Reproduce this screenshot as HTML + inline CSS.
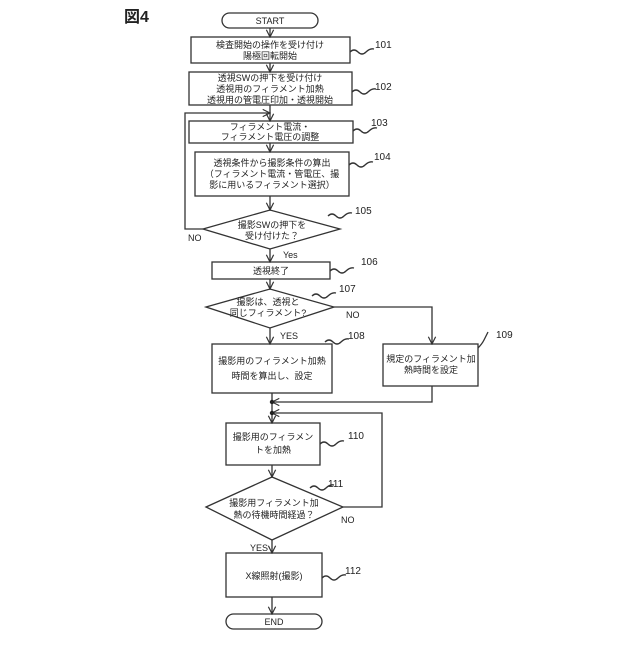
<!DOCTYPE html>
<html><head><meta charset="utf-8"><style>
html,body{margin:0;padding:0;background:#fff}
svg text{font-family:"Liberation Sans","Noto Sans CJK JP",sans-serif;fill:#222}
</style></head><body>
<svg width="640" height="640" viewBox="0 0 640 640" xmlns="http://www.w3.org/2000/svg">
<defs><marker id="a" viewBox="0 0 10 10" refX="9" refY="5" markerWidth="7" markerHeight="7" orient="auto"><path d="M1,1 L9,5 L1,9" fill="none" stroke="#333" stroke-width="1.3"/></marker></defs>
<g stroke="#333" stroke-width="1.3" fill="none">
<rect x="222" y="13" width="96" height="15" rx="7.5"/>
<rect x="191" y="37" width="159" height="26"/>
<rect x="189" y="72" width="163" height="33"/>
<rect x="189" y="121" width="164" height="22"/>
<rect x="195" y="152" width="154" height="44"/>
<path d="M203,229 L270,210 L340,229 L270,249 Z"/>
<rect x="212" y="262" width="118" height="17"/>
<path d="M206,307 L270,289 L334,307 L270,328 Z"/>
<rect x="212" y="344" width="120" height="49"/>
<rect x="383" y="344" width="95" height="42"/>
<rect x="226" y="423" width="94" height="42"/>
<path d="M206,507 L272,477 L343,507 L272,540 Z"/>
<rect x="226" y="553" width="96" height="44"/>
<rect x="226" y="614" width="96" height="15" rx="7.5"/>
<path d="M270,28 V37" marker-end="url(#a)"/>
<path d="M270,63 V72" marker-end="url(#a)"/>
<path d="M270,105 V121" marker-end="url(#a)"/>
<path d="M270,143 V152" marker-end="url(#a)"/>
<path d="M270,196 V210" marker-end="url(#a)"/>
<path d="M203,229 H185 V113 H270" marker-end="url(#a)"/>
<path d="M270,249 V262" marker-end="url(#a)"/>
<path d="M270,279 V289" marker-end="url(#a)"/>
<path d="M334,307 H432 V344" marker-end="url(#a)"/>
<path d="M270,328 V344" marker-end="url(#a)"/>
<path d="M272,393 V423" marker-end="url(#a)"/>
<path d="M432,386 V402 H272" marker-end="url(#a)"/>
<path d="M343,507 H382 V413 H272" marker-end="url(#a)"/>
<path d="M272,465 V477" marker-end="url(#a)"/>
<path d="M272,540 V553" marker-end="url(#a)"/>
<path d="M272,597 V614" marker-end="url(#a)"/>
<path d="M350,52 q4,-4 8,0 t8,0 t8,-3"/>
<path d="M352,92 q4,-4 8,0 t8,0 t8,-3"/>
<path d="M353,131 q4,-4 8,0 t8,0 t8,-3"/>
<path d="M349,165 q4,-4 8,0 t8,0 t8,-3"/>
<path d="M328,216 q4,-4 8,0 t8,0 t8,-3"/>
<path d="M330,271 q4,-4 8,0 t8,0 t8,-3"/>
<path d="M312,296 q4,-4 8,0 t8,0 t8,-3"/>
<path d="M325,342 q4,-4 8,0 t8,0 t8,-3"/>
<path d="M478,348 q4,-4 6,-8 t4,-8"/>
<path d="M320,444 q4,-4 8,0 t8,0 t8,-3"/>
<path d="M310,488 q4,-4 8,0 t8,0 t8,-3"/>
<path d="M322,578 q4,-4 8,0 t8,0 t8,-3"/>
</g>
<circle cx="272" cy="402" r="2.2" fill="#222"/>
<circle cx="272" cy="413" r="2.2" fill="#222"/>
<text x="124" y="22" font-size="16" font-weight="bold">図4</text>
<g font-size="9" text-anchor="middle">
<text x="270" y="24">START</text>
<text x="270" y="48">検査開始の操作を受け付け</text>
<text x="270" y="59">陽極回転開始</text>
<text x="270" y="81">透視SWの押下を受け付け</text>
<text x="270" y="92">透視用のフィラメント加熱</text>
<text x="270" y="103">透視用の管電圧印加・透視開始</text>
<text x="270" y="130">フィラメント電流・</text>
<text x="270" y="140">フィラメント電圧の調整</text>
<text x="272" y="166">透視条件から撮影条件の算出</text>
<text x="272" y="177">（フィラメント電流・管電圧、撮</text>
<text x="272" y="188">影に用いるフィラメント選択）</text>
<text x="272" y="228">撮影SWの押下を</text>
<text x="272" y="239">受け付けた？</text>
<text x="271" y="274">透視終了</text>
<text x="268" y="305">撮影は、透視と</text>
<text x="268" y="316">同じフィラメント?</text>
<text x="272" y="364">撮影用のフィラメント加熱</text>
<text x="272" y="379">時間を算出し、設定</text>
<text x="431" y="362">規定のフィラメント加</text>
<text x="431" y="373">熱時間を設定</text>
<text x="273" y="440">撮影用のフィラメン</text>
<text x="273" y="453">トを加熱</text>
<text x="274" y="506">撮影用フィラメント加</text>
<text x="274" y="518">熱の待機時間経過？</text>
<text x="274" y="579">X線照射(撮影)</text>
<text x="274" y="625">END</text>
</g>
<g font-size="9">
<text x="188" y="241">NO</text>
<text x="283" y="258">Yes</text>
<text x="346" y="318">NO</text>
<text x="280" y="339">YES</text>
<text x="341" y="523">NO</text>
<text x="250" y="551">YES</text>
</g>
<g font-size="10">
<text x="375" y="48">101</text>
<text x="375" y="90">102</text>
<text x="371" y="126">103</text>
<text x="374" y="160">104</text>
<text x="355" y="214">105</text>
<text x="361" y="265">106</text>
<text x="339" y="292">107</text>
<text x="348" y="339">108</text>
<text x="496" y="338">109</text>
<text x="348" y="439">110</text>
<text x="328" y="487">111</text>
<text x="345" y="574">112</text>
</g>
</svg>
</body></html>
